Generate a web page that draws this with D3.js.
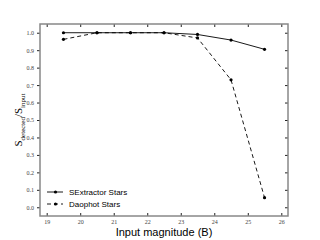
<!DOCTYPE html>
<html>
<head>
<meta charset="utf-8">
<style>
  body { margin: 0; background: #fff; }
  .tick text { font-family: "Liberation Serif", "DejaVu Serif", serif; font-size: 6px; fill: #444; }
</style>
</head>
<body>
<div id="chart"></div>
<script src="https://d3js.org/d3.v7.min.js"></script>
<script>
// data
var magnitudes = [19.5, 20.5, 21.5, 22.5, 23.5, 24.5, 25.5];
var sextractor = [1.0, 1.0, 1.0, 1.0, 0.99, 0.958, 0.905];
var daophot    = [0.962, 1.0, 1.0, 1.0, 0.97, 0.73, 0.055];
var seriesNames = ["SExtractor Stars", "Daophot Stars"];
var xTicks = [19, 20, 21, 22, 23, 24, 25, 26];
var yTicks = [0.0, 0.1, 0.2, 0.3, 0.4, 0.5, 0.6, 0.7, 0.8, 0.9, 1.0];

var W = 320, H = 240;
var margin = {top: 24, right: 32, bottom: 24, left: 40};
var width = W - margin.left - margin.right,
    height = H - margin.top - margin.bottom;

var svg = d3.select("#chart").append("svg")
    .attr("width", W).attr("height", H);
var g = svg.append("g")
    .attr("transform", "translate(" + margin.left + "," + margin.top + ")");

var x = d3.scaleLinear().domain([18.8, 26.2]).range([0, width]);
var y = d3.scaleLinear().domain([-0.05, 1.05]).range([height, 0]);

// axes (ticks pointing inward)
g.append("g")
    .attr("transform", "translate(0," + height + ")")
    .call(d3.axisBottom(x).tickValues(xTicks).tickFormat(d3.format("d")).tickSizeInner(-3).tickSizeOuter(0).tickPadding(4))
    .call(function(a){ a.select(".domain").remove(); a.selectAll("line").attr("stroke", "#222"); });
g.append("g")
    .call(d3.axisTop(x).tickValues(xTicks).tickFormat("").tickSizeInner(-3).tickSizeOuter(0))
    .call(function(a){ a.select(".domain").remove(); a.selectAll("line").attr("stroke", "#222"); });
g.append("g")
    .call(d3.axisLeft(y).tickValues(yTicks).tickFormat(d3.format(".1f")).tickSizeInner(3).tickSizeOuter(0).tickPadding(3))
    .call(function(a){ a.select(".domain").remove(); a.selectAll("line").attr("stroke", "#222"); });
g.append("g")
    .attr("transform", "translate(" + width + ",0)")
    .call(d3.axisRight(y).tickValues(yTicks).tickFormat("").tickSizeInner(-3).tickSizeOuter(0))
    .call(function(a){ a.select(".domain").remove(); a.selectAll("line").attr("stroke", "#222"); });

// frame
g.append("rect")
    .attr("width", width).attr("height", height)
    .attr("fill", "none").attr("stroke", "#888").attr("stroke-width", 1.5);

var line = d3.line()
    .x(function(d, i){ return x(magnitudes[i]); })
    .y(function(d){ return y(d); });

var series = [
  {name: seriesNames[0], values: sextractor, dash: null},
  {name: seriesNames[1], values: daophot, dash: "4,3"}
];

series.forEach(function(s){
  g.append("path")
      .datum(s.values)
      .attr("fill", "none")
      .attr("stroke", "#000")
      .attr("stroke-width", 0.9)
      .attr("stroke-dasharray", s.dash)
      .attr("d", line);
  g.selectAll(null)
      .data(s.values)
      .enter().append("circle")
      .attr("cx", function(d, i){ return x(magnitudes[i]); })
      .attr("cy", function(d){ return y(d); })
      .attr("r", 1.6)
      .attr("fill", "#000");
});

// legend
var legend = g.append("g").attr("transform", "translate(7,168)");
series.forEach(function(s, i){
  var row = legend.append("g").attr("transform", "translate(0," + (i * 12) + ")");
  row.append("line")
      .attr("x1", 0).attr("x2", 16).attr("y1", 0).attr("y2", 0)
      .attr("stroke", "#000").attr("stroke-width", 0.9)
      .attr("stroke-dasharray", s.dash);
  row.append("circle").attr("cx", 8.5).attr("cy", 0).attr("r", 1.6).attr("fill", "#000");
  row.append("text")
      .attr("x", 22).attr("y", 3)
      .attr("font-family", "Liberation Sans, Arial, sans-serif")
      .attr("font-size", 8)
      .attr("fill", "#000")
      .text(s.name);
});

// axis labels
svg.append("text")
    .attr("x", margin.left + width / 2).attr("y", 236)
    .attr("text-anchor", "middle")
    .attr("font-family", "Liberation Sans, Arial, sans-serif")
    .attr("font-size", 11)
    .text("Input magnitude (B)");

var ylab = svg.append("text")
    .attr("transform", "translate(22," + (margin.top + height / 2) + ") rotate(-90)")
    .attr("text-anchor", "middle")
    .attr("font-family", "Liberation Serif, DejaVu Serif, serif")
    .attr("font-size", 11)
    .attr("fill", "#000");
ylab.append("tspan").text("S");
ylab.append("tspan").attr("font-size", 7).attr("dy", 2.5).text("detected");
ylab.append("tspan").attr("dy", -2.5).text("/S");
ylab.append("tspan").attr("font-size", 7).attr("dy", 2.5).text("input");
</script>
</body>
</html>
